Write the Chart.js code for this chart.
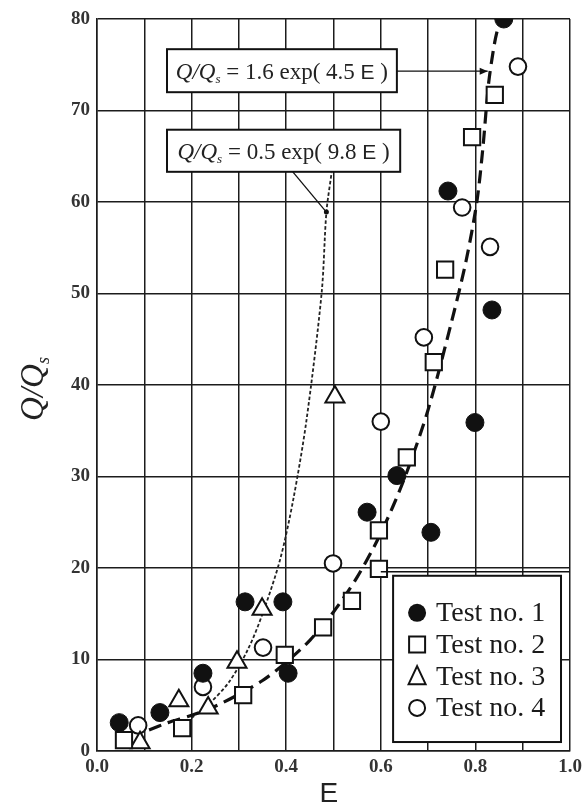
<!DOCTYPE html>
<html lang="en">
<head>
  <meta charset="UTF-8">
  <title>Q/Qs vs E</title>
  <script src="https://cdn.jsdelivr.net/npm/chart.js"></script>
  <style>
    body { margin: 0; background: #fff; }
    #wrap { width: 588px; height: 805px; }
  </style>
</head>
<body>
  <div id="wrap"><canvas id="qChart" width="588" height="805"></canvas></div>

  <script>
    const test1E = [0.047, 0.133, 0.224, 0.313, 0.393, 0.404, 0.571, 0.634, 0.706, 0.799, 0.742, 0.835, 0.860];
    const test1Q = [3.1, 4.2, 8.5, 16.3, 16.3, 8.5, 26.1, 30.1, 23.9, 35.9, 61.2, 48.2, 80.0];

    const test2E = [0.057, 0.180, 0.309, 0.397, 0.478, 0.539, 0.596, 0.596, 0.655, 0.712, 0.736, 0.793, 0.841];
    const test2Q = [1.2, 2.5, 6.1, 10.5, 13.5, 16.4, 19.9, 24.1, 32.1, 42.5, 52.6, 67.1, 71.7];

    const test3E = [0.091, 0.173, 0.235, 0.296, 0.349, 0.503];
    const test3Q = [0.9, 5.5, 4.7, 9.7, 15.5, 38.7];

    const test4E = [0.087, 0.224, 0.351, 0.499, 0.600, 0.691, 0.772, 0.831, 0.890];
    const test4Q = [2.8, 7.0, 11.3, 20.5, 36.0, 45.2, 59.4, 55.1, 74.8];

    // fitted curves as drawn: Q/Qs = 1.6 exp(4.5E) and Q/Qs = 0.5 exp(9.8E)
    const fitAE = [0.11, 0.15, 0.20, 0.25, 0.30, 0.35, 0.40, 0.45, 0.50, 0.55, 0.60, 0.65, 0.70, 0.75, 0.78, 0.803, 0.816, 0.828, 0.841, 0.852];
    const fitAQ = [2.3, 3.1, 3.9, 4.9, 6.2, 7.7, 9.7, 12.1, 15.2, 19.0, 23.8, 29.8, 37.3, 47.0, 53.5, 60.0, 66.0, 73.0, 77.5, 80.0];

    const fitBE = [0.20, 0.24, 0.28, 0.32, 0.35, 0.387, 0.415, 0.443, 0.475, 0.485, 0.496];
    const fitBQ = [3.6, 5.3, 7.6, 11.2, 15.0, 20.9, 27.5, 36.2, 50.1, 58.9, 63.2];

    const yTicks = [0, 10, 20, 30, 40, 50, 60, 70, 80];
    const seriesNames = ['Test no. 1', 'Test no. 2', 'Test no. 3', 'Test no. 4'];

    const ink = '#111';
    const serif = '"Liberation Serif", "DejaVu Serif", serif';
    const sans = '"Liberation Sans", Arial, sans-serif';

    function pts(xs, ys) {
      return xs.map((x, i) => ({ x: x, y: ys[i] }));
    }

    // annotation anchors in data units
    const box1 = { e0: 0.148, e1: 0.634, q0: 72.0, q1: 76.7 };
    const box2 = { e0: 0.148, e1: 0.641, q0: 63.3, q1: 67.9 };
    const arrow1 = { e: 0.826, q: 74.3 };
    const arrow2 = { e0: 0.414, e1: 0.485, q: 58.9 };
    const legendBox = { e0: 0.626, e1: 0.981, q0: 0.98, q1: 19.15, outerE: 0.6, outerQ: 19.6 };

    function drawParts(ctx, parts, cx, cy) {
      let w = 0;
      parts.forEach(p => { ctx.font = p.f; p.w = ctx.measureText(p.t).width; w += p.w; });
      let x = cx - w / 2;
      ctx.textAlign = 'left';
      ctx.textBaseline = 'alphabetic';
      parts.forEach(p => {
        ctx.font = p.f;
        ctx.fillText(p.t, x, cy + (p.dy || 0));
        x += p.w;
      });
    }

    function eqParts(text) {
      return [
        { t: 'Q/Q', f: 'italic 23px ' + serif },
        { t: 's', f: 'italic 13px ' + serif, dy: 4 },
        { t: text, f: '23px ' + serif },
        { t: 'E', f: '21px ' + sans },
        { t: ' )', f: '23px ' + serif }
      ];
    }

    function marker(ctx, kind, x, y) {
      ctx.save();
      ctx.lineWidth = 2;
      ctx.strokeStyle = ink;
      ctx.fillStyle = '#fff';
      ctx.beginPath();
      if (kind === 0) {
        ctx.fillStyle = ink;
        ctx.arc(x, y, 9, 0, Math.PI * 2);
        ctx.fill();
      } else if (kind === 1) {
        ctx.rect(x - 8, y - 8, 16, 16);
        ctx.fill(); ctx.stroke();
      } else if (kind === 2) {
        ctx.moveTo(x, y - 10);
        ctx.lineTo(x + 8.5, y + 8);
        ctx.lineTo(x - 8.5, y + 8);
        ctx.closePath();
        ctx.fill(); ctx.stroke();
      } else {
        ctx.arc(x, y, 8, 0, Math.PI * 2);
        ctx.fill(); ctx.stroke();
      }
      ctx.restore();
    }

    const extras = {
      id: 'extras',
      afterDraw(chart) {
        const ctx = chart.ctx;
        const xs = chart.scales.x, ys = chart.scales.y;
        const px = v => xs.getPixelForValue(v);
        const py = v => ys.getPixelForValue(v);
        ctx.save();
        ctx.fillStyle = ink;
        ctx.strokeStyle = ink;

        // the two equation boxes
        [box1, box2].forEach(b => {
          const x0 = px(b.e0), x1 = px(b.e1), y0 = py(b.q1), y1 = py(b.q0);
          ctx.fillStyle = '#fff';
          ctx.fillRect(x0, y0, x1 - x0, y1 - y0);
          ctx.lineWidth = 2;
          ctx.strokeRect(x0, y0, x1 - x0, y1 - y0);
        });
        ctx.fillStyle = '#222';
        drawParts(ctx, eqParts(' = 1.6 exp( 4.5 '), (px(box1.e0) + px(box1.e1)) / 2, (py(box1.q0) + py(box1.q1)) / 2 + 8);
        drawParts(ctx, eqParts(' = 0.5 exp( 9.8 '), (px(box2.e0) + px(box2.e1)) / 2, (py(box2.q0) + py(box2.q1)) / 2 + 8);

        // arrow from box 1
        const ay = py(arrow1.q), ax = px(arrow1.e);
        ctx.lineWidth = 1.3;
        ctx.beginPath();
        ctx.moveTo(px(box1.e1), ay);
        ctx.lineTo(ax, ay);
        ctx.stroke();
        ctx.fillStyle = ink;
        ctx.beginPath();
        ctx.moveTo(ax, ay);
        ctx.lineTo(ax - 8, ay - 3.5);
        ctx.lineTo(ax - 8, ay + 3.5);
        ctx.closePath();
        ctx.fill();

        // arrow from box 2
        const bx0 = px(arrow2.e0), by0 = py(box2.q0), bx1 = px(arrow2.e1), by1 = py(arrow2.q);
        ctx.beginPath();
        ctx.moveTo(bx0, by0);
        ctx.lineTo(bx1, by1);
        ctx.stroke();
        ctx.beginPath();
        ctx.arc(bx1, by1, 2.5, 0, Math.PI * 2);
        ctx.fill();

        // legend
        const lx0 = px(legendBox.e0), lx1 = px(legendBox.e1);
        const ly0 = py(legendBox.q1), ly1 = py(legendBox.q0);
        ctx.lineWidth = 1.5;
        ctx.beginPath();
        ctx.moveTo(px(legendBox.outerE), py(legendBox.outerQ));
        ctx.lineTo(px(1), py(legendBox.outerQ));
        ctx.stroke();
        ctx.fillStyle = '#fff';
        ctx.fillRect(lx0, ly0, lx1 - lx0, ly1 - ly0);
        ctx.lineWidth = 2;
        ctx.strokeRect(lx0, ly0, lx1 - lx0, ly1 - ly0);
        ctx.font = '28px ' + serif;
        ctx.textAlign = 'left';
        ctx.textBaseline = 'middle';
        seriesNames.forEach((name, i) => {
          const ry = ly0 + 37 + i * 31.7;
          marker(ctx, i, lx0 + 24, ry);
          ctx.fillStyle = '#1a1a1a';
          ctx.fillText(name, lx0 + 43, ry + 1);
        });

        // axis titles
        ctx.fillStyle = '#222';
        ctx.save();
        ctx.translate(32, py(40) + 4);
        ctx.rotate(-Math.PI / 2);
        drawParts(ctx, [
          { t: 'Q/Q', f: 'italic 33px ' + serif },
          { t: 's', f: 'italic 18px ' + serif, dy: 6 }
        ], 0, 11);
        ctx.restore();
        ctx.font = '28px ' + sans;
        ctx.textAlign = 'center';
        ctx.textBaseline = 'alphabetic';
        ctx.fillText('E', px(0.49), 802);
        ctx.restore();
      }
    };

    const gridColor = '#1c1c1c';
    const tickFont = { family: serif, size: 19, weight: 'bold' };

    new Chart(document.getElementById('qChart').getContext('2d'), {
      type: 'scatter',
      data: {
        datasets: [
          {
            label: 'fit 1.6 exp(4.5E)',
            data: pts(fitAE, fitAQ),
            showLine: true,
            borderColor: ink,
            borderWidth: 3.2,
            borderDash: [13, 7],
            pointRadius: 0,
            tension: 0.3,
            order: 10
          },
          {
            label: 'fit 0.5 exp(9.8E)',
            data: pts(fitBE, fitBQ),
            showLine: true,
            borderColor: '#222',
            borderWidth: 1.8,
            borderDash: [3.5, 2.2],
            pointRadius: 0,
            tension: 0.3,
            order: 11
          },
          {
            label: seriesNames[0],
            data: pts(test1E, test1Q),
            pointStyle: 'circle',
            pointRadius: 9,
            backgroundColor: ink,
            borderColor: ink,
            borderWidth: 1,
            order: 1
          },
          {
            label: seriesNames[1],
            data: pts(test2E, test2Q),
            pointStyle: 'rect',
            pointRadius: 11.5,
            backgroundColor: '#fff',
            borderColor: ink,
            borderWidth: 2,
            order: 2
          },
          {
            label: seriesNames[2],
            data: pts(test3E, test3Q),
            pointStyle: 'triangle',
            pointRadius: 11,
            backgroundColor: '#fff',
            borderColor: ink,
            borderWidth: 2,
            order: 3
          },
          {
            label: seriesNames[3],
            data: pts(test4E, test4Q),
            pointStyle: 'circle',
            pointRadius: 8.3,
            backgroundColor: '#fff',
            borderColor: ink,
            borderWidth: 2,
            order: 4
          }
        ]
      },
      options: {
        responsive: false,
        animation: false,
        events: [],
        layout: { padding: { top: 19, right: 18, left: 0, bottom: 0 }, autoPadding: false },
        plugins: {
          legend: { display: false },
          tooltip: { enabled: false }
        },
        scales: {
          x: {
            type: 'linear',
            min: 0,
            max: 1,
            ticks: {
              stepSize: 0.1,
              padding: 5,
              color: '#333',
              font: tickFont,
              maxRotation: 0,
              autoSkip: false,
              callback: (v, i) => (i % 2 === 0 ? v.toFixed(1) : '')
            },
            grid: { color: gridColor, lineWidth: 1.5, drawTicks: false },
            border: { color: gridColor, width: 1.5 },
            afterFit: s => { s.height = 54; }
          },
          y: {
            type: 'linear',
            min: 0,
            max: 80,
            afterBuildTicks: s => { s.ticks = yTicks.map(v => ({ value: v })); },
            ticks: {
              padding: 7,
              color: '#333',
              font: tickFont,
              callback: v => String(v)
            },
            grid: { color: gridColor, lineWidth: 1.5, drawTicks: false },
            border: { color: gridColor, width: 1.5 },
            afterFit: s => { s.width = 97; }
          }
        }
      },
      plugins: [extras]
    });
  </script>
</body>
</html>
